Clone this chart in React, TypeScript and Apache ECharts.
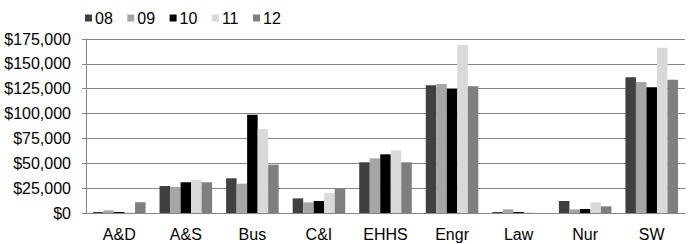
import React, { useEffect, useRef } from "react";
import * as echarts from "echarts";

const categories = ["A&D", "A&S", "Bus", "C&I", "EHHS", "Engr", "Law", "Nur", "SW"];
const seriesNames = ["08", "09", "10", "11", "12"];
const s08 = [1000, 27200, 34900, 14700, 51000, 128400, 1000, 12100, 136500];
const s09 = [2700, 26100, 29500, 10700, 55000, 129700, 3700, 3700, 131800];
const s10 = [1000, 30900, 98900, 12100, 59000, 124700, 1000, 4000, 126400];
const s11 = [500, 33200, 84500, 20100, 63000, 169000, 700, 10700, 166300];
const s12 = [10700, 30900, 48600, 24100, 51000, 127400, 0, 6700, 134100];
const seriesData = [s08, s09, s10, s11, s12];
const colors = ["#404040", "#a6a6a6", "#000000", "#d9d9d9", "#7f7f7f"];
const yTicks = { min: 0, max: 175000, interval: 25000 };

export default function App() {
  const ref = useRef<HTMLDivElement>(null);
  useEffect(() => {
    if (!ref.current) return;
    const chart = echarts.init(ref.current, null, { renderer: "svg" });
    chart.setOption({
      animation: false,
      textStyle: { fontFamily: "Liberation Sans, Arial, sans-serif" },
      legend: {
        left: 85,
        top: 10,
        padding: 0,
        itemWidth: 7,
        itemHeight: 7,
        itemGap: 14.5,
        icon: "rect",
        textStyle: { fontSize: 16, color: "#000", padding: [0, 0, 0, -2] },
        data: seriesNames,
      },
      grid: { left: 86, right: 4, top: 39, bottom: 31, containLabel: false },
      xAxis: {
        type: "category",
        data: categories,
        axisLine: { lineStyle: { color: "#868686", width: 1 } },
        axisTick: { show: false },
        axisLabel: { fontSize: 16, color: "#000", margin: 13 },
      },
      yAxis: {
        type: "value",
        min: yTicks.min,
        max: yTicks.max,
        interval: yTicks.interval,
        axisLine: { show: true, lineStyle: { color: "#868686", width: 1 } },
        axisTick: { show: true, length: 4, lineStyle: { color: "#868686" } },
        splitLine: { lineStyle: { color: "#868686", width: 1 } },
        axisLabel: {
          fontSize: 16,
          color: "#000",
          margin: 15,
          formatter: (v: number) => "$" + v.toLocaleString("en-US"),
        },
      },
      series: seriesNames.map((name, i) => ({
        name,
        type: "bar",
        data: seriesData[i],
        itemStyle: { color: colors[i] },
        barGap: "0%",
        barCategoryGap: "21%",
      })),
    });
    return () => chart.dispose();
  }, []);
  return <div ref={ref} style={{ width: 689, height: 244, position: "absolute", left: 0, top: 0 }} />;
}
